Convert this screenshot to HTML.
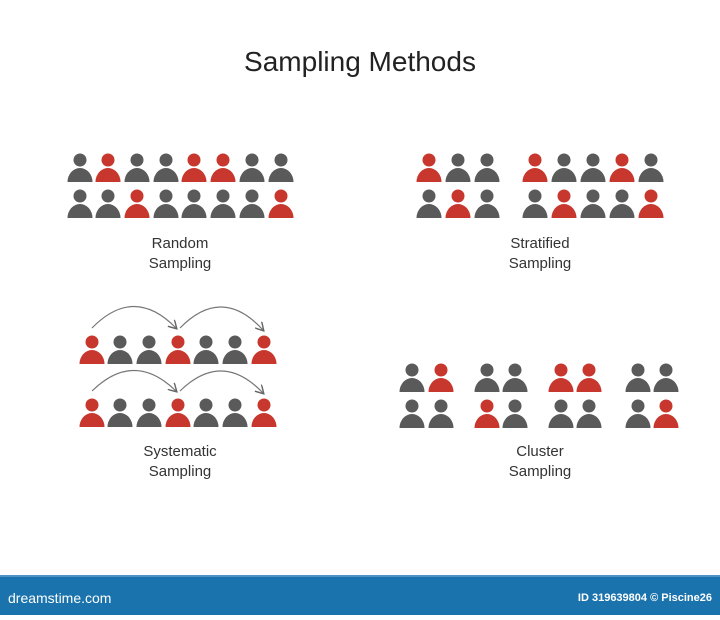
<!DOCTYPE html>
<html><head><style>
body{margin:0;background:#fff;width:720px;height:615px;overflow:hidden;font-family:"Liberation Sans",sans-serif}
</style></head><body>
<svg width="720" height="615" viewBox="0 0 720 615" xmlns="http://www.w3.org/2000/svg">
<defs>
<symbol id="p" overflow="visible"><circle cx="0" cy="0" r="6.5"/><path d="M-12.5 22 A12.5 14 0 0 1 12.5 22 Z"/></symbol>
<marker id="a" markerWidth="8" markerHeight="8" refX="6" refY="4" orient="auto"><path d="M0 0 L7 4 L0 8" fill="none" stroke="#666" stroke-width="1.2"/></marker>
</defs>
<text x="360" y="71" font-size="28" text-anchor="middle" fill="#222">Sampling Methods</text>
<g font-size="15" fill="#333" text-anchor="middle">
<text x="180" y="248">Random</text><text x="180" y="268">Sampling</text>
<text x="540" y="248">Stratified</text><text x="540" y="268">Sampling</text>
<text x="180" y="456">Systematic</text><text x="180" y="476">Sampling</text>
<text x="540" y="456">Cluster</text><text x="540" y="476">Sampling</text>
</g>
<g>
<!-- Random -->
<use href="#p" x="80" y="160" fill="#5a5a5a"/><use href="#p" x="108" y="160" fill="#c8372d"/><use href="#p" x="137" y="160" fill="#5a5a5a"/><use href="#p" x="166" y="160" fill="#5a5a5a"/><use href="#p" x="194" y="160" fill="#c8372d"/><use href="#p" x="223" y="160" fill="#c8372d"/><use href="#p" x="252" y="160" fill="#5a5a5a"/><use href="#p" x="281" y="160" fill="#5a5a5a"/>
<use href="#p" x="80" y="196" fill="#5a5a5a"/><use href="#p" x="108" y="196" fill="#5a5a5a"/><use href="#p" x="137" y="196" fill="#c8372d"/><use href="#p" x="166" y="196" fill="#5a5a5a"/><use href="#p" x="194" y="196" fill="#5a5a5a"/><use href="#p" x="223" y="196" fill="#5a5a5a"/><use href="#p" x="252" y="196" fill="#5a5a5a"/><use href="#p" x="281" y="196" fill="#c8372d"/>
<!-- Stratified -->
<use href="#p" x="429" y="160" fill="#c8372d"/><use href="#p" x="458" y="160" fill="#5a5a5a"/><use href="#p" x="487" y="160" fill="#5a5a5a"/>
<use href="#p" x="535" y="160" fill="#c8372d"/><use href="#p" x="564" y="160" fill="#5a5a5a"/><use href="#p" x="593" y="160" fill="#5a5a5a"/><use href="#p" x="622" y="160" fill="#c8372d"/><use href="#p" x="651" y="160" fill="#5a5a5a"/>
<use href="#p" x="429" y="196" fill="#5a5a5a"/><use href="#p" x="458" y="196" fill="#c8372d"/><use href="#p" x="487" y="196" fill="#5a5a5a"/>
<use href="#p" x="535" y="196" fill="#5a5a5a"/><use href="#p" x="564" y="196" fill="#c8372d"/><use href="#p" x="593" y="196" fill="#5a5a5a"/><use href="#p" x="622" y="196" fill="#5a5a5a"/><use href="#p" x="651" y="196" fill="#c8372d"/>
<!-- Systematic -->
<use href="#p" x="92" y="342" fill="#c8372d"/><use href="#p" x="120" y="342" fill="#5a5a5a"/><use href="#p" x="149" y="342" fill="#5a5a5a"/><use href="#p" x="178" y="342" fill="#c8372d"/><use href="#p" x="206" y="342" fill="#5a5a5a"/><use href="#p" x="235" y="342" fill="#5a5a5a"/><use href="#p" x="264" y="342" fill="#c8372d"/>
<use href="#p" x="92" y="405" fill="#c8372d"/><use href="#p" x="120" y="405" fill="#5a5a5a"/><use href="#p" x="149" y="405" fill="#5a5a5a"/><use href="#p" x="178" y="405" fill="#c8372d"/><use href="#p" x="206" y="405" fill="#5a5a5a"/><use href="#p" x="235" y="405" fill="#5a5a5a"/><use href="#p" x="264" y="405" fill="#c8372d"/>
<!-- Cluster -->
<use href="#p" x="412" y="370" fill="#5a5a5a"/><use href="#p" x="441" y="370" fill="#c8372d"/><use href="#p" x="412" y="406" fill="#5a5a5a"/><use href="#p" x="441" y="406" fill="#5a5a5a"/>
<use href="#p" x="487" y="370" fill="#5a5a5a"/><use href="#p" x="515" y="370" fill="#5a5a5a"/><use href="#p" x="487" y="406" fill="#c8372d"/><use href="#p" x="515" y="406" fill="#5a5a5a"/>
<use href="#p" x="561" y="370" fill="#c8372d"/><use href="#p" x="589" y="370" fill="#c8372d"/><use href="#p" x="561" y="406" fill="#5a5a5a"/><use href="#p" x="589" y="406" fill="#5a5a5a"/>
<use href="#p" x="638" y="370" fill="#5a5a5a"/><use href="#p" x="666" y="370" fill="#5a5a5a"/><use href="#p" x="638" y="406" fill="#5a5a5a"/><use href="#p" x="666" y="406" fill="#c8372d"/>
</g>
<g fill="none" stroke="#777" stroke-width="1.2" marker-end="url(#a)">
<path d="M92 328 Q134 285 176 328"/><path d="M180 328 Q222 285 263 330"/>
<path d="M92 391 Q134 350 176 391"/><path d="M180 391 Q222 350 263 393"/>
</g>
<rect x="0" y="575" width="720" height="40" fill="#1a73ad"/>
<rect x="0" y="575" width="720" height="2" fill="#4d95c4"/>
<text x="8" y="603" font-size="14" fill="#fff">dreamstime.com</text>
<text x="712" y="601" font-size="11" fill="#fff" text-anchor="end" font-weight="bold">ID 319639804 © Piscine26</text>
</svg>
</body></html>
